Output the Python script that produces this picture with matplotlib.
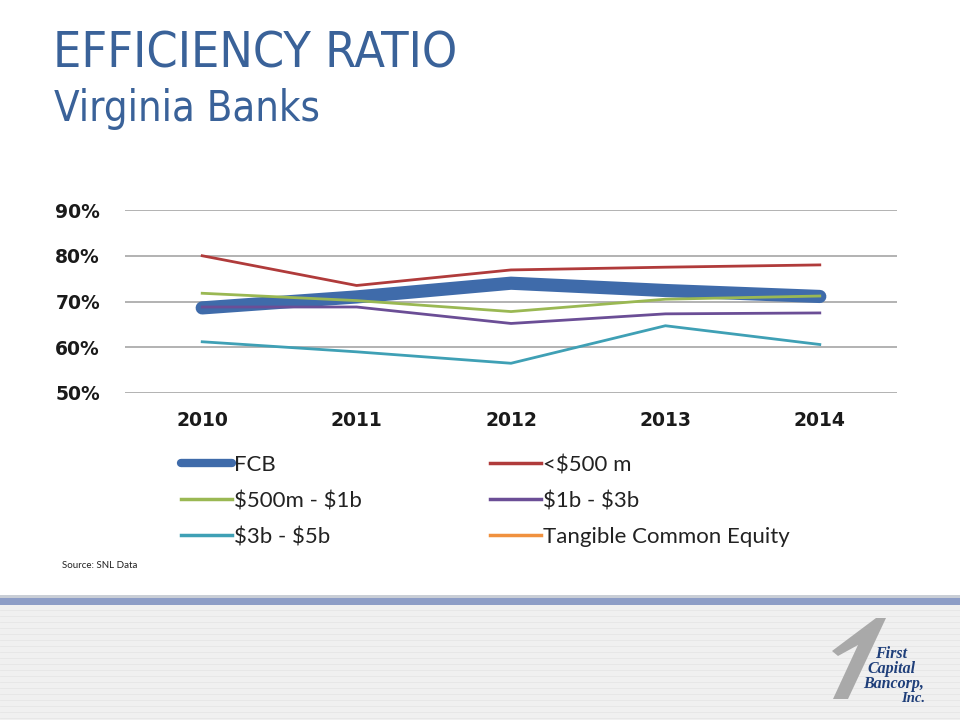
import matplotlib
matplotlib.use("Agg")
import matplotlib.pyplot as plt
from matplotlib.patches import Rectangle, Polygon
from matplotlib.lines import Line2D

# ---- data ----
years = ["2010", "2011", "2012", "2013", "2014"]
fcb = [68.6, 71.0, 74.0, 72.4, 71.1]
under_500m = [80.0, 73.5, 76.9, 77.5, 78.0]
m500_1b = [71.8, 70.2, 67.8, 70.5, 71.2]
b1_3b = [68.8, 68.8, 65.2, 67.3, 67.5]
b3_5b = [61.2, 59.0, 56.5, 64.7, 60.6]
tce = []  # legend only, no data plotted
y_ticks = [50, 60, 70, 80, 90]
y_tick_labels = ["50%", "60%", "70%", "80%", "90%"]

W, H = 960, 720
fig = plt.figure(figsize=(9.6, 7.2), dpi=100)
fig.patch.set_facecolor("white")

def fx(x):
    return x / W

def fy(y):
    return 1 - y / H

# ---- titles ----
fig.text(fx(53), fy(67), "EFFICIENCY RATIO", family="DejaVu Sans",
         fontstretch="condensed", fontsize=36,
         color="#3A6299", va="baseline", ha="left")
fig.text(fx(54), fy(121), "Virginia Banks", family="DejaVu Sans",
         fontstretch="condensed", fontsize=30,
         color="#3A6299", va="baseline", ha="left")

# ---- chart ----
ax = fig.add_axes([fx(125), fy(393), fx(897 - 125), (393 - 210) / H])
x = list(range(len(years)))
ax.plot(x, fcb, color="#3F6BAA", lw=9.5, solid_capstyle="round",
        solid_joinstyle="round", zorder=2)
ax.plot(x, under_500m, color="#B03B3B", lw=2.0, zorder=3)
ax.plot(x, m500_1b, color="#9AB853", lw=2.0, zorder=5)
ax.plot(x, b1_3b, color="#6B4E96", lw=2.0, zorder=4)
ax.plot(x, b3_5b, color="#3FA0B5", lw=2.0, zorder=3)

ax.set_xlim(-0.5, 4.5)
ax.set_ylim(50, 90)
ax.set_yticks(y_ticks)
ax.set_yticklabels(y_tick_labels)
ax.set_xticks(x)
ax.set_xticklabels(years)
for sp in ax.spines.values():
    sp.set_visible(False)
ax.grid(axis="y", color="#A6A6A6", lw=1.2, zorder=0)
ax.set_axisbelow(True)
ax.tick_params(axis="both", length=0, labelsize=13.5, colors="#1A1A1A")
ax.tick_params(axis="y", pad=18)
ax.tick_params(axis="x", pad=13)
for lab in ax.get_xticklabels() + ax.get_yticklabels():
    lab.set_fontweight("bold")
ax.set_facecolor("none")

# ---- legend ----
handles = [
    Line2D([], [], color="#3F6BAA", lw=6, solid_capstyle="round"),
    Line2D([], [], color="#9AB853", lw=2.5),
    Line2D([], [], color="#3FA0B5", lw=2.5),
    Line2D([], [], color="#B03B3B", lw=2.5),
    Line2D([], [], color="#6B4E96", lw=2.5),
    Line2D([], [], color="#F0913F", lw=2.5),
]
labels = ["FCB", "\\$500m - \\$1b", "\\$3b - \\$5b", "<\\$500 m", "\\$1b - \\$3b",
          "Tangible Common Equity"]
leg = fig.legend(handles, labels, ncol=2, loc="upper left",
                 bbox_to_anchor=(fx(161), fy(435)), frameon=False,
                 prop={"family": ["Lato", "DejaVu Sans"], "size": 16},
                 handlelength=2.3, handletextpad=0.1, labelspacing=0.72,
                 columnspacing=5.75, labelcolor="#222222")

fig.text(fx(62), fy(566), "Source: SNL Data", family=["Lato", "DejaVu Sans"],
         fontsize=7, color="#222222", va="center", ha="left")

# ---- footer decoration ----
fig.patches.append(Rectangle((0, 0), 1, fy(605), transform=fig.transFigure,
                             facecolor="#F0F0F0", edgecolor="none", zorder=0))
fig.patches.append(Rectangle((0, fy(605)), 1, 7 / H, transform=fig.transFigure,
                             facecolor="#8D9DC6", edgecolor="none", zorder=1))
fig.patches.append(Rectangle((0, fy(598)), 1, 3 / H, transform=fig.transFigure,
                             facecolor="#C9CED6", edgecolor="none", zorder=1))
for yy in range(610, 720, 6):
    fig.lines.append(Line2D([0, 1], [fy(yy), fy(yy)], transform=fig.transFigure,
                            color="#E6E6E6", lw=0.6, zorder=1))

# logo "1"
one = [(fx(833), fy(699)), (fx(848), fy(699)), (fx(886), fy(618)),
       (fx(876), fy(618)), (fx(832), fy(651)), (fx(838), fy(656)),
       (fx(858), fy(645))]
fig.patches.append(Polygon(one, closed=True, transform=fig.transFigure,
                           facecolor="#A9A9A9", edgecolor="none", zorder=2))
logo_font = ["Liberation Serif", "DejaVu Serif"]
for txt, xx, yy, fs in [("First", 891, 658, 11.5), ("Capital", 892, 673, 11.5),
                         ("Bancorp,", 894, 688, 11.5), ("Inc.", 913, 702, 10.5)]:
    fig.text(fx(xx), fy(yy), txt, family=logo_font, fontsize=fs,
             fontweight="bold", style="italic", color="#1F3F7A",
             ha="center", va="baseline", zorder=3)

fig.savefig("out.png", dpi=100)
